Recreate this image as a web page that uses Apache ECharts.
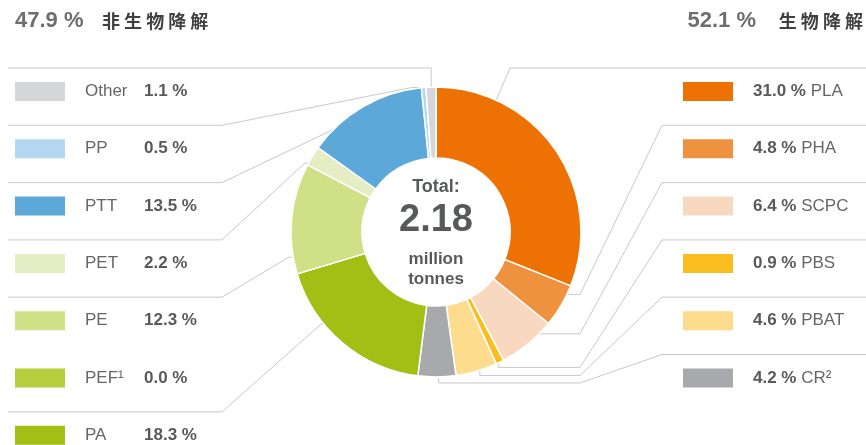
<!DOCTYPE html>
<html><head><meta charset="utf-8">
<script src="https://cdn.jsdelivr.net/npm/echarts@6/dist/echarts.min.js"></script>
<style>html,body{margin:0;padding:0;background:#fff}#c{width:866px;height:445px}</style>
</head><body><div id="c"></div>
<script>
// ---------- data ----------
const bioNames = ['PLA', 'PHA', 'SCPC', 'PBS', 'PBAT', 'CR²'];
const bioShares = [31.0, 4.8, 6.4, 0.9, 4.6, 4.2];
const nonBioNames = ['PA', 'PEF¹', 'PE', 'PET', 'PTT', 'PP', 'Other'];
const nonBioShares = [18.3, 0.0, 12.3, 2.2, 13.5, 0.5, 1.1];
const groupShares = { nonBio: 47.9, bio: 52.1 };
const groupLabels = { nonBio: '非生物降解', bio: '生物降解' };
const totalLabel = 'Total:';
const totalValue = '2.18';
const totalUnit = ['million', 'tonnes'];

// ---------- style ----------
const bioColors = ['#EE7203', '#EF9240', '#F8D8BF', '#FABD20', '#FDDC8D', '#A7A9AC'];
const nonBioColors = ['#A3BE14', '#B7CE3D', '#CFE087', '#E4EDC4', '#5CA8D8', '#B3D7F0', '#D5D6D7'];
const FONT = '"Liberation Sans", Arial, Helvetica, sans-serif';
const CJK = '"Noto Sans CJK SC", sans-serif';
const CX = 436, CY = 232, R = 145, R0 = 74;
const ROW0 = 91.5, ROWSTEP = 57.3;
const LEFT_X = 15, RIGHT_X = 683;
// where along each slice (fraction of its arc) the leader line ends
const anchorFrac = [0.22, 0.3, 0.37, 0.3, 0.36, 0.45, 0.62, 0.5, 0.14, 0.3, 0.24, 0.5, 0.5];

const names = bioNames.concat(nonBioNames);
const shares = bioShares.concat(nonBioShares);
const colors = bioColors.concat(nonBioColors);
const nBio = bioNames.length;

const chart = echarts.init(document.getElementById('c'), null, { renderer: 'canvas' });

const rich = {
  gap: { width: 20 },
  nmL: { fontSize: 17, color: '#666', width: 59, fontFamily: FONT },
  nmR: { fontSize: 17, color: '#666', fontFamily: FONT },
  val: { fontSize: 17, color: '#58595b', fontWeight: 'bold', fontFamily: FONT }
};
colors.forEach((c, i) => { rich['b' + i] = { width: 50, height: 19, backgroundColor: c }; });

function fmtPct(v) { return v.toFixed(1) + ' %'; }

function itemLayout(idx) {
  try {
    const L = chart.getModel().getSeriesByIndex(0).getData().getItemLayout(idx);
    if (L && L.startAngle != null) return L;
  } catch (e) {}
  const sum = shares.reduce((a, b) => a + b, 0);
  let start = -Math.PI / 2;
  for (let i = 0; i < idx; i++) start += shares[i] / sum * Math.PI * 2;
  return { cx: CX, cy: CY, r: R, r0: R0, startAngle: start, endAngle: start + shares[idx] / sum * Math.PI * 2 };
}

const data = names.map((n, i) => ({
  name: n,
  value: shares[i],
  itemStyle: { color: colors[i] },
  labelLine: { show: shares[i] > 0 }
}));

const numFont = 'bold 22px ' + FONT;
const cjkFont = 'bold 18px ' + CJK;
const centerText = (t, y, font) => ({ type: 'text', x: CX, y: y, style: { text: t, font: font, fill: '#58595b', textAlign: 'center', textVerticalAlign: 'middle' } });

const option = {
  animation: false,
  backgroundColor: '#fff',
  graphic: [
    { type: 'text', x: 15, y: 21, style: { text: fmtPct(groupShares.nonBio), font: numFont, fill: '#6d6e70', textAlign: 'left', textVerticalAlign: 'middle' } },
    { type: 'text', x: 102, y: 21, style: { text: groupLabels.nonBio.split('').join(' '), font: cjkFont, fill: '#404040', textAlign: 'left', textVerticalAlign: 'middle' } },
    { type: 'text', x: 756, y: 21, style: { text: fmtPct(groupShares.bio), font: numFont, fill: '#6d6e70', textAlign: 'right', textVerticalAlign: 'middle' } },
    { type: 'text', x: 863, y: 21, style: { text: groupLabels.bio.split('').join(' '), font: cjkFont, fill: '#404040', textAlign: 'right', textVerticalAlign: 'middle' } },
    centerText(totalLabel, 187, 'bold 18px ' + FONT),
    centerText(totalValue, 221, 'bold 38px ' + FONT),
    centerText(totalUnit[0], 259, 'bold 17px ' + FONT),
    centerText(totalUnit[1], 279, 'bold 17px ' + FONT)
  ],
  series: [{
    type: 'pie',
    center: [CX, CY],
    radius: [R0, R],
    startAngle: 90,
    clockwise: true,
    avoidLabelOverlap: false,
    emphasis: { disabled: true },
    itemStyle: { borderColor: '#fff', borderWidth: 1.5 },
    label: {
      show: true,
      position: 'outside',
      fontFamily: FONT,
      lineHeight: 22,
      rich: rich,
      formatter: function (p) {
        const i = p.dataIndex;
        if (i < nBio) {
          return '{b' + i + '|}{gap|}{val|' + fmtPct(shares[i]) + '}{nmR| ' + names[i] + '}';
        }
        return '{b' + i + '|}{gap|}{nmL|' + names[i] + '}{val|' + fmtPct(shares[i]) + '}';
      }
    },
    labelLine: { show: true, lineStyle: { color: '#c9c9c9', width: 1 } },
    labelLayout: function (p) {
      const idx = p.dataIndex;
      const L = itemLayout(idx);
      const a = L.startAngle + (L.endAngle - L.startAngle) * anchorFrac[idx];
      const ar = (idx === names.length - 2) ? L.r : L.r * 0.95;
      const ax = L.cx + ar * Math.cos(a), ay = L.cy + ar * Math.sin(a);
      let k, pts, x;
      if (idx < nBio) {
        k = idx; x = RIGHT_X;
        const ly = ROW0 + k * ROWSTEP - 23.5;
        if (k === 0) {
          pts = [[ax, ay], [510, ly], [866, ly]];
        } else {
          const hook = ay > 345;
          const yh = hook ? L.cy + L.r * Math.sin(a) + 6 : ay;
          pts = [[ax, ay], [ax, yh], [580, yh], [662, ly], [866, ly]];
        }
      } else {
        k = names.length - 1 - idx; x = LEFT_X;
        const ly = ROW0 + k * ROWSTEP - 23.5;
        if (k === 0) {
          pts = [[ax, ay], [ax, ly], [8, ly]];
        } else {
          pts = [[ax, ay], [ax - 12, ay], [222, ly], [8, ly]];
        }
      }
      const res = { x: x, y: ROW0 + k * ROWSTEP, align: 'left', verticalAlign: 'middle' };
      if (shares[idx] > 0) res.labelLinePoints = pts;
      return res;
    },
    data: data
  }]
};
chart.setOption(option);
</script>
</body></html>
